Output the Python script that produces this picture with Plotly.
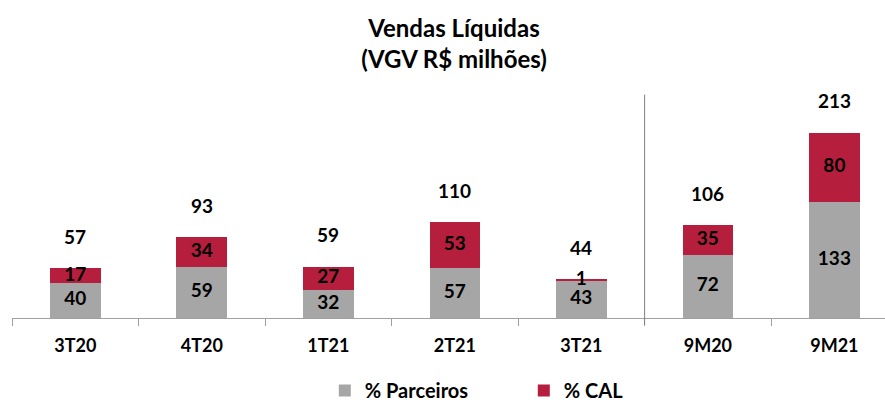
import plotly.graph_objects as go

categories = ["3T20", "4T20", "1T21", "2T21", "3T21", "9M20", "9M21"]
parceiros = [40, 59, 32, 57, 43, 72, 133]
cal = [17, 34, 27, 53, 1, 35, 80]
totals = [57, 93, 59, 110, 44, 106, 213]
series_names = ["% Parceiros", "% CAL"]

GRAY = "#A6A6A6"
RED = "#B51E3D"
FONT = "Lato"
LBL = dict(family=FONT, size=19, color="black", weight="bold")

fig = go.Figure()
fig.add_trace(go.Bar(x=categories, y=parceiros, name=series_names[0],
                     marker=dict(color=GRAY, line=dict(width=0)),
                     hoverinfo="skip"))
fig.add_trace(go.Bar(x=categories, y=cal, name=series_names[1],
                     marker=dict(color=RED, line=dict(width=0)),
                     hoverinfo="skip"))

# segment labels
fig.add_trace(go.Scatter(x=categories, y=[p / 2 for p in parceiros],
                         text=[str(v) for v in parceiros], mode="text",
                         textposition="middle center", textfont=LBL,
                         showlegend=False, hoverinfo="skip"))
fig.add_trace(go.Scatter(x=categories, y=[p + c / 2 for p, c in zip(parceiros, cal)],
                         text=[str(v) for v in cal], mode="text",
                         textposition="middle center", textfont=LBL,
                         showlegend=False, hoverinfo="skip"))

for cat, tot in zip(categories, totals):
    fig.add_annotation(x=cat, y=tot, text=str(tot), showarrow=False,
                       yanchor="middle", yshift=32, font=LBL)

# separator between quarters and year-to-date
fig.add_shape(type="line", xref="x", yref="paper", x0=4.5, x1=4.5,
              y0=-0.03, y1=0.98, line=dict(color="#7F7F7F", width=1))

fig.update_layout(
    width=885, height=410,
    margin=dict(l=12, r=0, t=90, b=92, autoexpand=False),
    paper_bgcolor="white", plot_bgcolor="white",
    barmode="stack", bargap=0.6,
    font=dict(family=FONT, size=18, color="black", weight="bold"),
    title=dict(text="Vendas Líquidas<br>(VGV R$ milhões)",
               x=0.513, xref="container", xanchor="center",
               y=0.91, yref="container", yanchor="middle",
               font=dict(family=FONT, size=24, color="black", weight="bold")),
    showlegend=True,
    legend=dict(orientation="h", x=0.367, xanchor="left", xref="container",
                y=-0.022, yanchor="bottom", yref="container",
                font=dict(family=FONT, size=20, color="black", weight="bold"),
                entrywidth=154, entrywidthmode="pixels",
                traceorder="normal"),
    xaxis=dict(range=[-0.5, 6.4], showline=True, linecolor="#A0A0A0", linewidth=1,
               ticks="outside", tickson="boundaries", ticklen=7, tickcolor="#A0A0A0",
               showgrid=False, zeroline=False, ticklabelstandoff=11,
               tickfont=dict(family=FONT, size=18, color="black", weight="bold")),
    yaxis=dict(range=[0, 262], visible=False, showgrid=False, zeroline=False),
)

fig.write_html("out.html", config={"displayModeBar": False},
               post_script="document.body.style.margin='0';")
